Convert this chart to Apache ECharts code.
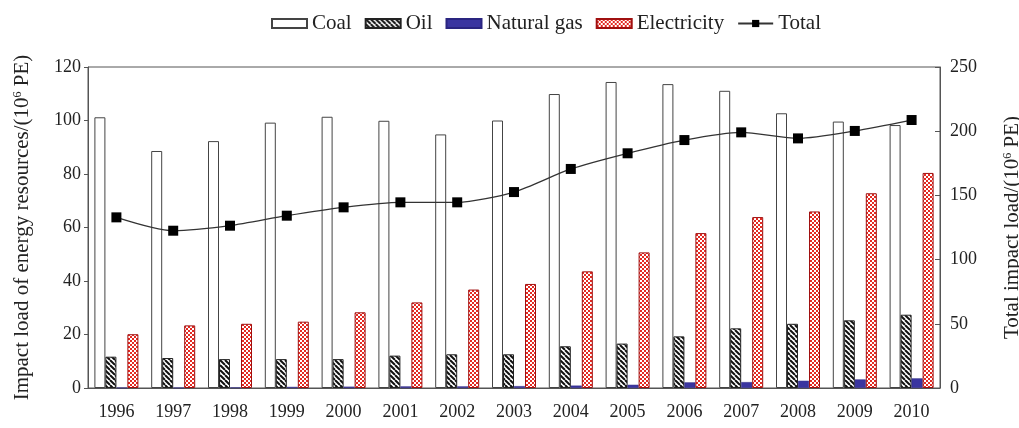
<!DOCTYPE html>
<html><head><meta charset="utf-8">
<script src="https://cdn.jsdelivr.net/npm/echarts@6/dist/echarts.min.js"></script>
<style>html,body{margin:0;padding:0;background:#fff}#c{width:1019px;height:428px}</style>
</head><body><div id="c"></div>
<script>
const years = ['1996','1997','1998','1999','2000','2001','2002','2003','2004','2005','2006','2007','2008','2009','2010'];
const coal = [101.2, 88.6, 92.3, 99.2, 101.4, 99.9, 94.8, 100.0, 109.9, 114.4, 113.6, 111.1, 102.7, 99.6, 98.3];
const oil = [11.7, 11.2, 10.8, 10.8, 10.8, 12.1, 12.6, 12.6, 15.6, 16.6, 19.3, 22.3, 24.0, 25.3, 27.4];
const gas = [0.1, 0.1, 0.2, 0.4, 0.5, 0.6, 0.6, 0.7, 0.9, 1.2, 2.1, 2.2, 2.7, 3.2, 3.6];
const electricity = [20.1, 23.4, 24.0, 24.8, 28.3, 32.0, 36.8, 38.9, 43.6, 50.7, 57.9, 63.9, 66.0, 72.8, 80.4];
const total = [132.9, 122.5, 126.4, 134.2, 140.7, 144.6, 144.6, 152.6, 170.6, 182.8, 193.1, 199.1, 194.4, 200.2, 208.7];

function hatch() {
  const s = 5, c = document.createElement('canvas');
  c.width = s; c.height = s;
  const g = c.getContext('2d');
  g.fillStyle = '#fff'; g.fillRect(0, 0, s, s);
  g.strokeStyle = '#111'; g.lineWidth = 2;
  for (const o of [-s, 0, s]) { g.beginPath(); g.moveTo(o, 0); g.lineTo(o + s, s); g.stroke(); }
  return c;
}
function checker() {
  const c = document.createElement('canvas');
  c.width = 4; c.height = 4;
  const g = c.getContext('2d');
  g.fillStyle = '#e42a22'; g.fillRect(0, 0, 4, 4);
  g.fillStyle = '#fff'; g.fillRect(0, 0, 2, 2); g.fillRect(2, 2, 2, 2);
  return c;
}
const font = '"Liberation Serif", "Times New Roman", serif';
const chart = echarts.init(document.getElementById('c'), null, {renderer: 'canvas'});
const barBase = {type: 'bar', barWidth: 11, barGap: '0%', yAxisIndex: 0};
const supRich = {s: {fontFamily: font, fontSize: 12, color: '#222', padding: [0, 0, 9, 0]}};
chart.setOption({
  animation: false,
  textStyle: {fontFamily: font, color: '#222'},
  legend: {
    top: 8, left: 266, itemWidth: 35, itemHeight: 9, itemGap: 13,
    textStyle: {fontFamily: font, fontSize: 21, color: '#222'},
    data: [{name: 'Coal', icon: 'rect'}, {name: 'Oil', icon: 'rect'}, {name: 'Natural gas', icon: 'rect'}, {name: 'Electricity', icon: 'rect'}, {name: 'Total'}]
  },
  grid: {left: 88, right: 79, top: 67, bottom: 40, show: true, borderColor: '#555', borderWidth: 1, backgroundColor: 'transparent', outerBoundsMode: 'none', containLabel: false},
  xAxis: {
    type: 'category', data: years, boundaryGap: true,
    axisLine: {lineStyle: {color: '#555'}},
    axisTick: {inside: true, length: 4, interval: 0, lineStyle: {color: '#555'}},
    axisLabel: {fontFamily: font, fontSize: 18, color: '#222', margin: 15, interval: 0}
  },
  yAxis: [{
    type: 'value', min: 0, max: 120, interval: 20,
    name: 'Impact load of energy resources/(10{s|6} PE)', nameLocation: 'middle', nameRotate: 90, nameGap: 55,
    nameTextStyle: {fontFamily: font, fontSize: 21, color: '#222', rich: supRich},
    axisLine: {show: true, lineStyle: {color: '#555'}},
    axisTick: {show: true, inside: false, length: 4, lineStyle: {color: '#555'}},
    axisLabel: {fontFamily: font, fontSize: 18, color: '#222', margin: 7},
    splitLine: {show: false}
  }, {
    type: 'value', min: 0, max: 250, interval: 50, position: 'right',
    name: 'Total impact load/(10{s|6} PE)', nameLocation: 'middle', nameRotate: 90, nameGap: 62,
    nameTextStyle: {fontFamily: font, fontSize: 21, color: '#222', rich: supRich},
    axisLine: {show: true, lineStyle: {color: '#555'}},
    axisTick: {show: true, inside: true, length: 5, lineStyle: {color: '#555'}},
    axisLabel: {fontFamily: font, fontSize: 18, color: '#222', margin: 10},
    splitLine: {show: false}
  }],
  series: [
    Object.assign({}, barBase, {name: 'Coal', data: coal, itemStyle: {color: '#fff', borderColor: '#444', borderWidth: 1}}),
    Object.assign({}, barBase, {name: 'Oil', data: oil, itemStyle: {color: {image: hatch(), repeat: 'repeat'}, borderColor: '#222', borderWidth: 1}}),
    Object.assign({}, barBase, {name: 'Natural gas', data: gas, itemStyle: {color: '#3a35a0', borderColor: '#2a2580', borderWidth: 0.5}}),
    Object.assign({}, barBase, {name: 'Electricity', data: electricity, itemStyle: {color: {image: checker(), repeat: 'repeat'}, borderColor: '#a01010', borderWidth: 1}}),
    {name: 'Total', type: 'line', yAxisIndex: 1, data: total, smooth: 0.25, symbol: 'rect', symbolSize: 10,
     lineStyle: {color: '#333', width: 1.3}, itemStyle: {color: '#000'}, z: 5}
  ]
});
</script></body></html>
